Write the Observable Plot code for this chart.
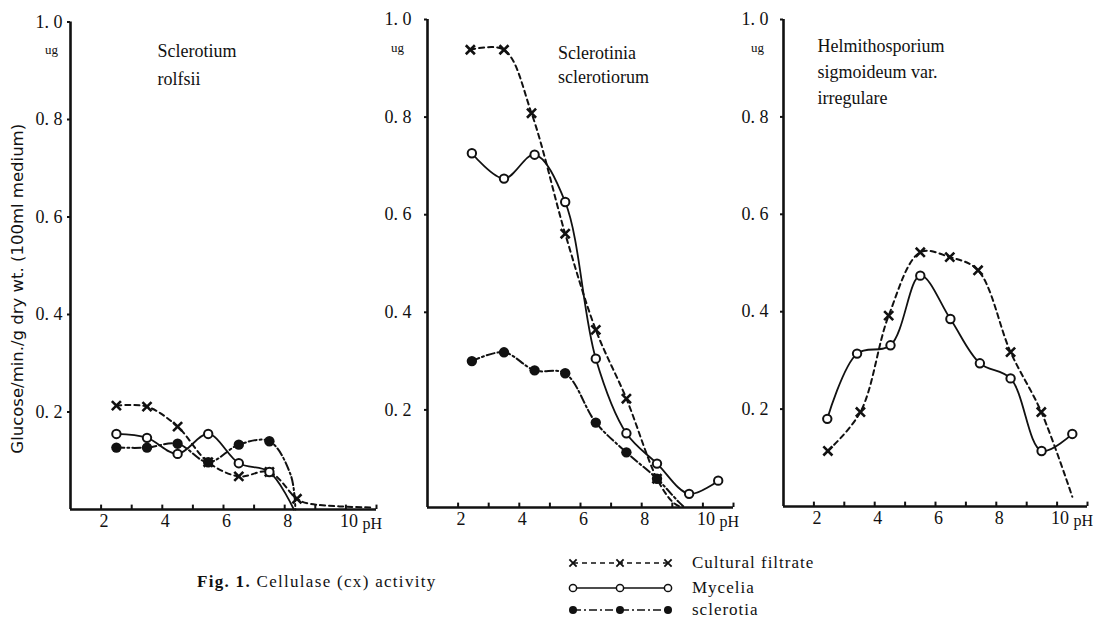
<!DOCTYPE html>
<html>
<head>
<meta charset="utf-8">
<script src="https://cdn.jsdelivr.net/npm/d3@7"></script>
<script src="https://cdn.jsdelivr.net/npm/@observablehq/plot@0.6"></script>
<style>
  body { margin: 0; background: #fff; }
  #fig { position: relative; width: 1100px; height: 626px; overflow: hidden; font-family: "Liberation Serif", serif; color: #111; }
  #fig .panel { position: absolute; top: 0; }
  #fig svg { overflow: visible; }
  .caption { position: absolute; left: 197px; top: 572px; font-size: 17px; letter-spacing: 1.3px; white-space: nowrap; }
  .caption b { font-weight: bold; }
  #legend { position: absolute; left: 560px; top: 548px; }
  .legtext { position: absolute; left: 692px; font-size: 17px; letter-spacing: 1px; white-space: nowrap; line-height: 1; }
</style>
</head>
<body>
<div id="fig"></div>
<script>
// Cellulase (Cx) activity against pH, three fungi, three enzyme sources.
// Points are [pH, ug glucose / min / g dry wt.]; "tail" arrays hold where a curve runs on past its last measured point.

const pHTicks = [2, 4, 6, 8, 10];
const pHMinorTicks = [2, 3, 4, 5, 6, 7, 8, 9, 10, 11];
const activityTicks = [0.2, 0.4, 0.6, 0.8, 1.0];
const yAxisTitle = "Glucose/min./g dry wt. (100ml medium)";
const unitLabel = "ug";

// Sclerotium rolfsii
const rolfsiiFiltrate = [[2.5, 0.213], [3.5, 0.211], [4.5, 0.170], [5.5, 0.097], [6.5, 0.068], [7.5, 0.077], [8.4, 0.022]];
const rolfsiiFiltrateTail = [[8.8, 0.012], [10.9, 0.004]];
const rolfsiiMycelia = [[2.5, 0.155], [3.5, 0.147], [4.5, 0.114], [5.5, 0.155], [6.5, 0.095], [7.5, 0.077]];
const rolfsiiMyceliaTail = [[8.3, 0]];
const rolfsiiSclerotia = [[2.5, 0.127], [3.5, 0.127], [4.5, 0.135], [5.5, 0.097], [6.5, 0.133], [7.5, 0.140]];
const rolfsiiSclerotiaTail = [[8.2, 0.07], [8.35, 0]];

// Sclerotinia sclerotiorum
const sclerotiorumFiltrate = [[2.4, 0.938], [3.5, 0.938], [4.4, 0.808], [5.5, 0.561], [6.5, 0.364], [7.5, 0.223], [8.5, 0.059]];
const sclerotiorumFiltrateTail = [[9.0, 0.012], [9.3, 0]];
const sclerotiorumMycelia = [[2.45, 0.726], [3.5, 0.674], [4.5, 0.723], [5.5, 0.626], [6.5, 0.305], [7.5, 0.152], [8.5, 0.090], [9.55, 0.028], [10.5, 0.055]];
const sclerotiorumSclerotia = [[2.45, 0.300], [3.5, 0.318], [4.5, 0.281], [5.5, 0.275], [6.5, 0.174], [7.5, 0.113], [8.5, 0.059]];
const sclerotiorumSclerotiaTail = [[9.2, 0.012], [9.4, 0]];

// Helminthosporium sigmoideum var. irregulare
const sigmoideumFiltrate = [[2.46, 0.114], [3.53, 0.194], [4.46, 0.392], [5.5, 0.522], [6.47, 0.512], [7.4, 0.485], [8.47, 0.317], [9.48, 0.194]];
const sigmoideumFiltrateTail = [[10.5, 0.02]];
const sigmoideumMycelia = [[2.44, 0.180], [3.42, 0.314], [4.52, 0.331], [5.5, 0.474], [6.49, 0.385], [7.46, 0.294], [8.47, 0.263], [9.49, 0.114], [10.5, 0.149]];

const fmt = d => d.toFixed(1).replace(".", ". ");
const px = d => d[0], py = d => d[1];

const FILTRATE_DASH = "5,4";
const SCLEROTIA_DASH = "8,3,2,3";

function seriesMarks(points, tail, kind) {
  const line = points.concat(tail || []);
  const marks = [];
  if (kind === "filtrate") {
    marks.push(Plot.line(line, {x: px, y: py, curve: "catmull-rom", stroke: "#111", strokeWidth: 2, strokeDasharray: FILTRATE_DASH}));
    marks.push(Plot.dot(points, {x: px, y: py, symbol: "times", r: 4.2, stroke: "#111", strokeWidth: 2.6}));
  } else if (kind === "mycelia") {
    marks.push(Plot.line(line, {x: px, y: py, curve: "catmull-rom", stroke: "#111", strokeWidth: 1.8}));
    marks.push(Plot.dot(points, {x: px, y: py, r: 4.2, fill: "white", stroke: "#111", strokeWidth: 2}));
  } else {
    marks.push(Plot.line(line, {x: px, y: py, curve: "catmull-rom", stroke: "#111", strokeWidth: 2, strokeDasharray: SCLEROTIA_DASH}));
    marks.push(Plot.dot(points, {x: px, y: py, r: 5.2, fill: "#111"}));
  }
  return marks;
}

function panel(cfg) {
  const H = 560;
  const marks = [
    Plot.ruleX([1], {stroke: "#111", strokeWidth: 2.6}),
    Plot.ruleY([0], {stroke: "#111", strokeWidth: 2.6}),
    Plot.ruleX(pHMinorTicks, {y1: 0, y2: 0.009, stroke: "#111", strokeWidth: 2}),
    Plot.axisY({ticks: activityTicks, tickSize: 3, tickPadding: cfg.tickPad, tickFormat: fmt, label: null, strokeWidth: 2}),
    Plot.axisX({ticks: pHTicks, tickSize: 0, tickPadding: 5, dx: 3, label: null}),
    Plot.text(["pH"], {text: d => d, frameAnchor: "bottom-right", textAnchor: "start", dx: -14, dy: 19, fontSize: 16}),
    Plot.text([unitLabel], {text: d => d, frameAnchor: "top-left", textAnchor: "middle", dx: cfg.ugDx, dy: 23, fontSize: 13}),
    Plot.text([cfg.title], {text: d => d, frameAnchor: "top-left", textAnchor: "start", lineAnchor: "top", dx: cfg.titleDx, dy: cfg.titleDy, lineHeight: cfg.lineHeight, fontSize: 18})
  ];
  if (cfg.yTitle) {
    marks.push(Plot.text([yAxisTitle], {text: d => d, frameAnchor: "left", textAnchor: "middle", lineAnchor: "middle", rotate: -90, dx: -53, dy: 23, fontSize: 16.5, fontFamily: "DejaVu Sans"}));
  }
  cfg.series.forEach(s => marks.push(...seriesMarks(s[0], s[1], s[2])));
  const chart = Plot.plot({
    width: 70 + cfg.unit * 10 + 10,
    height: H,
    marginLeft: 70,
    marginRight: 10,
    marginTop: cfg.top,
    marginBottom: H - cfg.base,
    x: {domain: [1, 11]},
    y: {domain: [0, 1]},
    style: {fontFamily: "Liberation Serif", fontSize: "18px", color: "#111", background: "transparent", overflow: "visible"},
    marks
  });
  const wrap = document.createElement("div");
  wrap.className = "panel";
  wrap.style.left = (cfg.axisX - 70) + "px";
  wrap.appendChild(chart);
  document.getElementById("fig").appendChild(wrap);
}

panel({
  axisX: 70, top: 21.5, base: 509, unit: 30.6, tickPad: 5, ugDx: -19, yTitle: true,
  title: "Sclerotium\nrolfsii", titleDx: 87, titleDy: 15, lineHeight: 1.55,
  series: [
    [rolfsiiFiltrate, rolfsiiFiltrateTail, "filtrate"],
    [rolfsiiMycelia, rolfsiiMyceliaTail, "mycelia"],
    [rolfsiiSclerotia, rolfsiiSclerotiaTail, "sclerotia"]
  ]
});

panel({
  axisX: 426.5, top: 19, base: 507, unit: 30.6, tickPad: 13, ugDx: -30, yTitle: false,
  title: "Sclerotinia\nsclerotiorum", titleDx: 130.5, titleDy: 23, lineHeight: 1.3,
  series: [
    [sclerotiorumFiltrate, sclerotiorumFiltrateTail, "filtrate"],
    [sclerotiorumMycelia, [], "mycelia"],
    [sclerotiorumSclerotia, sclerotiorumSclerotiaTail, "sclerotia"]
  ]
});

panel({
  axisX: 783, top: 19, base: 506, unit: 30.4, tickPad: 12, ugDx: -26, yTitle: false,
  title: "Helmithosporium\nsigmoideum var.\nirregulare", titleDx: 34, titleDy: 14, lineHeight: 1.45,
  series: [
    [sigmoideumFiltrate, sigmoideumFiltrateTail, "filtrate"],
    [sigmoideumMycelia, [], "mycelia"]
  ]
});

// caption
const fig = document.getElementById("fig");
const cap = document.createElement("div");
cap.className = "caption";
cap.innerHTML = "<b>Fig. 1.</b> Cellulase (cx) activity";
fig.appendChild(cap);

// legend key: sample strokes drawn with d3, labels as html text
const legendRows = [
  {kind: "filtrate", label: "Cultural filtrate", y: 15},
  {kind: "mycelia", label: "Mycelia", y: 40},
  {kind: "sclerotia", label: "sclerotia", y: 62}
];
const legendMarkerX = [13, 60, 108];
const leg = d3.select(fig).append("svg").attr("id", "legend").attr("width", 130).attr("height", 76);
legendRows.forEach(row => {
  const dash = row.kind === "filtrate" ? FILTRATE_DASH : row.kind === "sclerotia" ? SCLEROTIA_DASH : null;
  leg.append("line")
    .attr("x1", legendMarkerX[0]).attr("x2", legendMarkerX[2])
    .attr("y1", row.y).attr("y2", row.y)
    .attr("stroke", "#111").attr("stroke-width", 1.6)
    .attr("stroke-dasharray", dash);
  legendMarkerX.forEach(x => {
    if (row.kind === "filtrate") {
      leg.append("path").attr("d", d3.symbol(d3.symbolTimes, 36)())
        .attr("transform", `translate(${x},${row.y})`)
        .attr("fill", "none").attr("stroke", "#111").attr("stroke-width", 1.8);
    } else if (row.kind === "mycelia") {
      leg.append("circle").attr("cx", x).attr("cy", row.y).attr("r", 3.6)
        .attr("fill", "white").attr("stroke", "#111").attr("stroke-width", 1.5);
    } else {
      leg.append("circle").attr("cx", x).attr("cy", row.y).attr("r", 4)
        .attr("fill", "#111");
    }
  });
  const t = document.createElement("div");
  t.className = "legtext";
  t.style.top = (548 + row.y - 9) + "px";
  t.textContent = row.label;
  fig.appendChild(t);
});
</script>
</body>
</html>
